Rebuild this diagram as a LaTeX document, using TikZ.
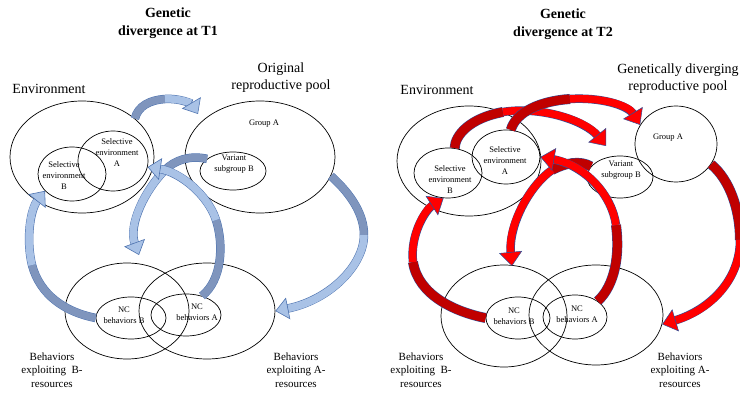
\documentclass[tikz,border=0pt]{standalone}
\usepackage{fontspec}
\setmainfont{Liberation Serif}
\usetikzlibrary{shapes.geometric, arrows.meta}

\definecolor{skyfill}{HTML}{A9C2E6}
\definecolor{slatefill}{HTML}{7F95BD}
\definecolor{blueedge}{HTML}{4F74B0}
\definecolor{redfill}{HTML}{FF0000}
\definecolor{darkredfill}{HTML}{C00000}
\definecolor{rededge}{HTML}{2F4F9A}

\tikzset{
  region/.style={draw, ellipse, inner sep=0pt, line width=0.7pt},
  lbl/.style={align=center, inner sep=0pt, font=\fontsize{8.5}{11}\selectfont},
  behlbl/.style={align=center, inner sep=0pt, font=\fontsize{11}{13.5}\selectfont},
  biglbl/.style={align=center, inner sep=0pt, font=\fontsize{14}{17}\selectfont},
  heading/.style={align=center, inner sep=0pt, font=\bfseries\fontsize{14}{18}\selectfont},
  tailB/.style={draw=slatefill, line width=7.5pt, preaction={draw=blueedge, line width=8.5pt}},
  headB/.style={draw=skyfill, line width=7.5pt,
    preaction={-, draw=blueedge, line width=8.5pt, shorten >=12pt},
    -{Triangle[length=13pt, width=22pt, fill=skyfill, color=blueedge, line width=0.6pt]}},
  tailR/.style={draw=darkredfill, line width=9pt, preaction={draw=rededge, line width=10pt}},
  headR/.style={draw=redfill, line width=7.5pt,
    preaction={-, draw=rededge, line width=8.5pt, shorten >=12pt},
    -{Triangle[length=14pt, width=23pt, fill=redfill, color=rededge, line width=0.5pt]}}
}

\begin{document}
\begin{tikzpicture}[x=1pt, y=1pt, yscale=-1]
\useasboundingbox (0,0) rectangle (740,403);

% divergence at T1
\node[heading] (headA) at (168,23) {Genetic\\divergence at T1};
\node[biglbl] (poolA) at (281,78) {Original\\reproductive pool};
\node[biglbl] (envA) at (49,89) {Environment};

\node[region, minimum width=144pt, minimum height=112pt] (env) at (82,157) {};
\node[region, minimum width=70pt, minimum height=60pt] (selA) at (113,161) {};
\node[region, minimum width=68pt, minimum height=54pt] (selB) at (72,174) {};
\node[region, minimum width=150pt, minimum height=112pt] (pool) at (260,157) {};
\node[region, minimum width=66pt, minimum height=38pt] (varB) at (233,171) {};
\node[region, minimum width=124pt, minimum height=96pt] (behB) at (127,311) {};
\node[region, minimum width=136pt, minimum height=96pt] (behA) at (207,311) {};
\node[region, minimum width=70pt, minimum height=42pt] (ncB) at (131,318) {};
\node[region, minimum width=70pt, minimum height=42pt] (ncA) at (186,315) {};

\node[lbl] (selAtxt) at (117,153) {Selective\\environment\\A};
\node[lbl] (selBtxt) at (64,176) {Selective\\environment\\B};
\node[lbl] (grpAtxt) at (264,124) {Group A};
\node[lbl] (varBtxt) at (234,164) {Variant\\subgroup B};
\node[lbl] (ncBtxt) at (124,315) {NC\\behaviors B};
\node[lbl] (ncAtxt) at (197,312) {NC\\behaviors A};
\node[behlbl] (behBtxt) at (52,370) {Behaviors\\exploiting\ \ B-\\resources};
\node[behlbl] (behAtxt) at (296,370) {Behaviors\\exploiting A-\\resources};

\coordinate (topA) at (198,114);
\coordinate (overB) at (139,255);

\draw[tailB] (env.36) .. controls (138,106) and (150,100) .. (165,99);
\draw[headB] (165,99) .. controls (180,98) and (192,104) .. (topA);
\draw[tailB] (varB.155) .. controls (190,155) and (175,160) .. (165,170);
\draw[headB] (165,170) .. controls (145,190) and (128,225) .. (overB);
\draw[tailB] (ncA.50) .. controls (222,280) and (224,245) .. (216,220);
\draw[headB] (216,220) .. controls (208,195) and (180,172) .. (selA.-10);
\draw[tailB] (pool.-15) .. controls (352,195) and (364,215) .. (364,235);
\draw[headB] (364,235) .. controls (364,265) and (330,300) .. (behA.east);
\draw[tailB] (ncB.west) .. controls (65,312) and (40,295) .. (32,265);
\draw[headB] (32,265) .. controls (26,240) and (30,210) .. (selB.212);

% divergence at T2
\node[heading] (headB) at (563,24) {Genetic\\divergence at T2};
\node[biglbl] (poolB) at (678,79) {Genetically diverging\\reproductive pool};
\node[biglbl] (envB) at (437,90) {Environment};

\node[region, minimum width=144pt, minimum height=110pt] (env2) at (469,161) {};
\node[region, minimum width=68pt, minimum height=54pt] (selA2) at (506,157) {};
\node[region, minimum width=68pt, minimum height=50pt] (selB2) at (448,173) {};
\node[region, minimum width=82pt, minimum height=76pt] (grpA2) at (676,144) {};
\node[region, minimum width=66pt, minimum height=42pt] (varB2) at (620,177) {};
\node[region, minimum width=126pt, minimum height=102pt] (behB2) at (504,316) {};
\node[region, minimum width=134pt, minimum height=100pt] (behA2) at (596,315) {};
\node[region, minimum width=64pt, minimum height=42pt] (ncB2) at (518,318) {};
\node[region, minimum width=64pt, minimum height=44pt] (ncA2) at (575,317) {};

\node[lbl] (selA2txt) at (505,161) {Selective\\environment\\A};
\node[lbl] (selB2txt) at (450,180) {Selective\\environment\\B};
\node[lbl] (grpA2txt) at (668,138) {Group A};
\node[lbl] (varB2txt) at (621,170) {Variant\\subgroup B};
\node[lbl] (ncB2txt) at (514,316) {NC\\behaviors B};
\node[lbl] (ncA2txt) at (577,314) {NC\\behaviors A};
\node[behlbl] (behB2txt) at (421,370) {Behaviors\\exploiting\ \ B-\\resources};
\node[behlbl] (behA2txt) at (680,370) {Behaviors\\exploiting A-\\resources};

\coordinate (overVar) at (606,146);
\coordinate (overB2) at (512,266);

\draw[tailR] (selB2.75) .. controls (455,135) and (470,118) .. (503,112);
\draw[headR] (503,112) .. controls (540,106) and (585,120) .. (overVar);
\draw[tailR] (selA2.80) .. controls (516,112) and (540,101) .. (570,99);
\draw[headR] (570,99) .. controls (600,97) and (628,105) .. (grpA2.152);
\draw[tailR] (varB2.160) .. controls (580,160) and (565,163) .. (552,170);
\draw[headR] (552,170) .. controls (530,185) and (508,225) .. (overB2);
\draw[tailR] (ncA2.35) .. controls (615,285) and (620,255) .. (616,225);
\draw[headR] (616,225) .. controls (612,195) and (585,165) .. (selA2.east);
\draw[tailR] (grpA2.-30) .. controls (730,180) and (740,210) .. (740,240);
\draw[headR] (740,240) .. controls (740,280) and (710,310) .. (behA2.-8);
\draw[tailR] (ncB2.west) .. controls (455,312) and (418,295) .. (413,262);
\draw[headR] (413,262) .. controls (410,235) and (425,210) .. (selB2.-100);
\end{tikzpicture}
\end{document}
